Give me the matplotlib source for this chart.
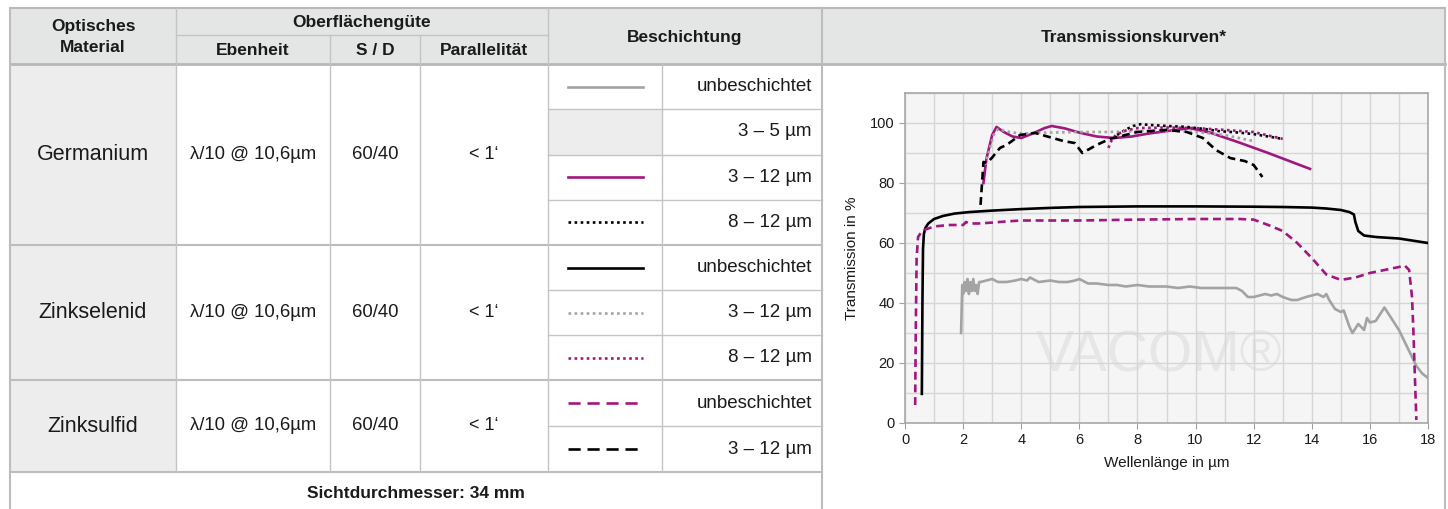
import matplotlib
matplotlib.use("Agg")
import matplotlib.pyplot as plt
from matplotlib.patches import Rectangle

plt.rcParams['font.family'] = ['Liberation Sans', 'DejaVu Sans']

# ---- table content ----
materials = ["Germanium", "Zinkselenid", "Zinksulfid"]
ebenheit = ["λ/10 @ 10,6µm", "λ/10 @ 10,6µm", "λ/10 @ 10,6µm"]
sd_values = ["60/40", "60/40", "60/40"]
parallel = ["< 1‘", "< 1‘", "< 1‘"]
coatings = [
    ["unbeschichtet", "3 – 5 µm", "3 – 12 µm", "8 – 12 µm"],
    ["unbeschichtet", "3 – 12 µm", "8 – 12 µm"],
    ["unbeschichtet", "3 – 12 µm"],
]
footer = "Sichtdurchmesser: 34 mm"

# ---- transmission curves (wavelength µm, transmission %) ----
ge_unb_x = [1.93, 1.97, 2.0, 2.05, 2.1, 2.15, 2.2, 2.25, 2.3, 2.35, 2.4, 2.45, 2.5, 2.55,
            2.6, 2.8, 3.0, 3.2, 3.5, 3.8, 4.0, 4.2, 4.3, 4.6, 5.0, 5.3, 5.6, 5.85, 6.0,
            6.3, 6.6, 7.0, 7.3, 7.6, 8.0, 8.4, 8.8, 9.0, 9.4, 9.8, 10.2, 10.6, 11.0, 11.4,
            11.6, 11.8, 12.0, 12.2, 12.4, 12.6, 12.8, 13.0, 13.3, 13.5, 13.8, 14.0, 14.2,
            14.4, 14.5, 14.6, 14.8, 15.0, 15.1, 15.3, 15.4, 15.6, 15.8, 15.9, 16.0, 16.2,
            16.4, 16.5, 16.6, 16.8, 17.0, 17.2, 17.4, 17.6, 17.8, 18.0]
ge_unb_y = [30, 46, 43, 47, 44, 48, 43, 47, 44, 48, 44, 46, 43, 47,
            47, 47.5, 48, 47, 47, 47.5, 48, 47.5, 48.5, 47, 47.5, 47, 47, 47.5, 48,
            46.5, 46.5, 46, 46, 45.5, 46, 45.5, 45.5, 45.5, 45, 45.5, 45, 45, 45, 45,
            44, 42, 42, 42.5, 43, 42.5, 43, 42, 41, 41, 42, 42.5, 43,
            42, 43, 41, 38, 37, 37.5, 32, 30, 33, 31, 35, 33.5, 34,
            37, 38.5, 37, 34, 31, 27, 23, 19, 16.5, 15]

ge_3_12_x = [2.7, 2.8, 3.0, 3.15, 3.4, 3.7, 4.0, 4.4, 4.8, 5.05, 5.5, 6.0, 6.6, 7.2,
             7.8, 8.4, 9.0, 9.8, 10.5, 11.5, 12.5, 13.94]
ge_3_12_y = [80, 88, 96, 98.7, 97, 95.5, 95, 96.5, 98.3, 99, 98.2, 96.8, 95.5, 95,
             95.5, 96.5, 97.3, 98.3, 96.8, 93.5, 90, 84.7]

ge_8_12_x = [7.3, 7.6, 7.85, 8.1, 8.5, 9.0, 9.7, 10.3, 10.8, 11.5, 12.0, 12.5, 13.0]
ge_8_12_y = [96, 97.8, 99, 99.6, 99.3, 99, 98.7, 98, 97.3, 96.8, 96.3, 95.5, 94.7]

znse_unb_x = [0.58, 0.6, 0.62, 0.65, 0.7, 0.8, 1.0, 1.3, 1.7, 2.2, 3, 4, 5, 6, 8, 10, 12, 13,
              14, 14.5, 15, 15.3, 15.45, 15.5, 15.6, 15.8, 16.2, 17, 18]
znse_unb_y = [9.7, 40, 58, 63, 65, 66.5, 68, 69, 69.8, 70.3, 70.8, 71.3, 71.7, 72, 72.2,
              72.2, 72.1, 72, 71.8, 71.5, 71, 70.3, 69.5, 67, 64, 62.5, 62, 61.5, 60]

znse_3_12_x = [2.75, 2.9, 3.05, 3.2, 3.6, 4.0, 5.0, 6.0, 7.0, 8.0, 9.0, 10.0, 11.0, 11.98]
znse_3_12_y = [86, 91, 96, 98, 97, 96.5, 96.8, 97, 97, 97.3, 97.5, 97, 96, 94]

znse_8_12_x = [7.0, 7.1, 7.25, 7.6, 8.0, 9.0, 10.0, 11.0, 12.0, 13.0]
znse_8_12_y = [91.7, 94, 96, 97.5, 98.3, 98.5, 98.3, 97.7, 97, 94.7]

zns_unb_x = [0.35, 0.37, 0.4, 0.45, 0.55, 0.7, 1.0, 1.5, 2.0, 2.1, 2.2, 2.5, 3, 3.5, 4, 5, 6,
             8, 10, 11, 11.5, 12, 12.5, 13, 13.5, 14, 14.5, 15, 15.5, 16, 16.5, 17, 17.2,
             17.35, 17.45, 17.5, 17.55, 17.6]
zns_unb_y = [6, 30, 55, 62, 63.5, 64.5, 65.5, 66, 66, 67, 66.5, 66.5, 66.8, 67.2, 67.5, 67.5,
             67.5, 67.8, 68, 68, 68, 67.8, 66, 64, 60, 55, 49.5, 47.7, 48.5, 50, 51, 52, 52.5,
             51, 42, 30, 15, 1]

zns_3_12_x = [2.6, 2.7, 2.82, 3.0, 3.27, 3.5, 3.96, 4.47, 4.9, 5.45, 5.85, 6.1, 6.6, 7.05,
              8.0, 9.0, 9.7, 10.25, 10.7, 11.2, 11.7, 12.0, 12.3]
zns_3_12_y = [72.7, 87, 86.7, 88.5, 91.7, 92.7, 96, 96.7, 95.5, 94, 93.3, 90, 92.7, 94.7,
              97, 97.7, 97, 95, 91, 88.3, 87.3, 86, 82]

magenta = '#a0177f'
grey = '#a3a3a3'
style_ge_unb = dict(color=grey, lw=1.9, ls='-')
style_ge_3_12 = dict(color=magenta, lw=1.9, ls='-')
style_ge_8_12 = dict(color='black', lw=1.9, ls=(0, (1, 1.3)))
style_znse_unb = dict(color='black', lw=1.9, ls='-')
style_znse_3_12 = dict(color=grey, lw=1.9, ls=(0, (1, 1.3)))
style_znse_8_12 = dict(color=magenta, lw=1.9, ls=(0, (1, 1.3)))
style_zns_unb = dict(color=magenta, lw=1.9, ls=(0, (3, 1.8)))
style_zns_3_12 = dict(color='black', lw=1.9, ls=(0, (3, 1.8)))

series = [
    (ge_unb_x, ge_unb_y, style_ge_unb),
    (ge_3_12_x, ge_3_12_y, style_ge_3_12),
    (ge_8_12_x, ge_8_12_y, style_ge_8_12),
    (znse_unb_x, znse_unb_y, style_znse_unb),
    (znse_3_12_x, znse_3_12_y, style_znse_3_12),
    (znse_8_12_x, znse_8_12_y, style_znse_8_12),
    (zns_unb_x, zns_unb_y, style_zns_unb),
    (zns_3_12_x, zns_3_12_y, style_zns_3_12),
]
# legend sample per coating row (None = grey empty cell)
legend_styles = [
    [style_ge_unb, None, style_ge_3_12, style_ge_8_12],
    [style_znse_unb, style_znse_3_12, style_znse_8_12],
    [style_zns_unb, style_zns_3_12],
]

W, H = 1448, 509
fig = plt.figure(figsize=(W / 100, H / 100), dpi=100)
tab = fig.add_axes([0, 0, 1, 1])
tab.set_xlim(0, W)
tab.set_ylim(H, 0)
tab.axis('off')

# column / row edges in pixels
cols = [10, 176, 330, 420, 548, 662, 822, 1445]
top, sub, hdr = 8, 35, 64
group_edges = [64, 245, 380, 472]
foot_bottom = 540
line_c = '#c4c4c4'
hdr_bg = '#e4e5e5'
mat_bg = '#ecedec'

# backgrounds
tab.add_patch(Rectangle((cols[0], top), cols[-1] - cols[0], hdr - top, color=hdr_bg, lw=0))
for g in range(3):
    tab.add_patch(Rectangle((cols[0], group_edges[g]), cols[1] - cols[0],
                            group_edges[g + 1] - group_edges[g], color=mat_bg, lw=0))

# header texts
bold = dict(fontsize=12.5, fontweight='bold', ha='center', va='center', color='#1a1a1a')
tab.text((cols[0] + cols[1]) / 2, (top + hdr) / 2 + 1, "Optisches\nMaterial", linespacing=1.5, **bold)
tab.text((cols[1] + cols[4]) / 2, (top + sub) / 2 + 1, "Oberflächengüte", **bold)
tab.text((cols[1] + cols[2]) / 2, (sub + hdr) / 2 + 1, "Ebenheit", **bold)
tab.text((cols[2] + cols[3]) / 2, (sub + hdr) / 2 + 1, "S / D", **bold)
tab.text((cols[3] + cols[4]) / 2, (sub + hdr) / 2 + 1, "Parallelität", **bold)
tab.text((cols[4] + cols[6]) / 2, (top + hdr) / 2 + 1, "Beschichtung", **bold)
tab.text((cols[6] + cols[7]) / 2, (top + hdr) / 2 + 1, "Transmissionskurven*", **bold)

# body
body = dict(ha='center', va='center', color='#1a1a1a')
for g in range(3):
    y0, y1 = group_edges[g], group_edges[g + 1]
    yc = (y0 + y1) / 2
    tab.text((cols[0] + cols[1]) / 2, yc, materials[g], fontsize=15.5, **body)
    tab.text((cols[1] + cols[2]) / 2, yc, ebenheit[g], fontsize=13.3, **body)
    tab.text((cols[2] + cols[3]) / 2, yc, sd_values[g], fontsize=13.3, **body)
    tab.text((cols[3] + cols[4]) / 2, yc, parallel[g], fontsize=13, **body)
    n = len(coatings[g])
    rh = (y1 - y0) / n
    for i, (lab, st) in enumerate(zip(coatings[g], legend_styles[g])):
        ry0 = y0 + i * rh
        ryc = ry0 + rh / 2
        tab.text(cols[6] - 10, ryc, lab, fontsize=13.5, ha='right', va='center', color='#1a1a1a')
        if st is None:
            tab.add_patch(Rectangle((cols[4], ry0), cols[5] - cols[4], rh, color=mat_bg, lw=0))
        else:
            lst = dict(st)
            if lst['ls'] == (0, (3, 1.8)):
                lst['ls'] = (0, (4.6, 2.6))
            tab.plot([568, 643], [ryc, ryc], **lst)
        if i > 0:
            tab.plot([cols[4], cols[6]], [ry0, ry0], color=line_c, lw=1)

tab.text((cols[0] + cols[6]) / 2, 493, footer, fontsize=12.5, fontweight='bold', **body)

# grid lines of table
tab.plot([cols[1], cols[4]], [sub, sub], color=line_c, lw=1)
tab.plot([cols[0], cols[-1]], [hdr, hdr], color='#b8b8b8', lw=2)
tab.plot([cols[0], cols[-1]], [top, top], color='#b8b8b8', lw=1.5)
for ge in group_edges[1:]:
    tab.plot([cols[0], cols[6]], [ge, ge], color='#bdbdbd', lw=1.5)
for i, cx in enumerate(cols):
    if i in (0, 6, 7):
        tab.plot([cx, cx], [top, foot_bottom], color='#bdbdbd', lw=1.5)
    elif i in (2, 3):
        tab.plot([cx, cx], [sub, group_edges[-1]], color=line_c, lw=1)
    elif i == 5:
        tab.plot([cx, cx], [hdr, group_edges[-1]], color=line_c, lw=1)
    else:
        tab.plot([cx, cx], [top, group_edges[-1]], color=line_c, lw=1)

# ---- chart ----
ax = fig.add_axes([905 / W, 1 - 423 / H, (1428 - 905) / W, (423 - 93) / H])
ax.set_facecolor('#f5f5f5')
ax.set_xlim(0, 18)
ax.set_ylim(0, 110)
ax.set_xticks(range(0, 19, 2))
ax.set_yticks(range(0, 101, 20))
ax.set_xticks(range(0, 19), minor=True)
ax.set_yticks(range(0, 111, 10), minor=True)
ax.grid(which='both', color='#d6d6d6', lw=1)
ax.set_axisbelow(True)
ax.tick_params(which='minor', length=0)
ax.tick_params(which='major', length=4, color='#a0a0a0', labelsize=10.5, labelcolor='#1a1a1a')
for sp in ax.spines.values():
    sp.set_color('#a8a8a8')
    sp.set_linewidth(1.2)
ax.set_xlabel("Wellenlänge in µm", fontsize=11, color='#1a1a1a', labelpad=6)
ax.set_ylabel("Transmission in %", fontsize=11, color='#1a1a1a', labelpad=8)
ax.text(8.75, 22, "VACOM®", fontsize=41, color='#e6e6e6', ha='center', va='center', zorder=0.5)

for xs, ys, st in series:
    ax.plot(xs, ys, zorder=3, **st)

fig.savefig("out.png", dpi=100)
